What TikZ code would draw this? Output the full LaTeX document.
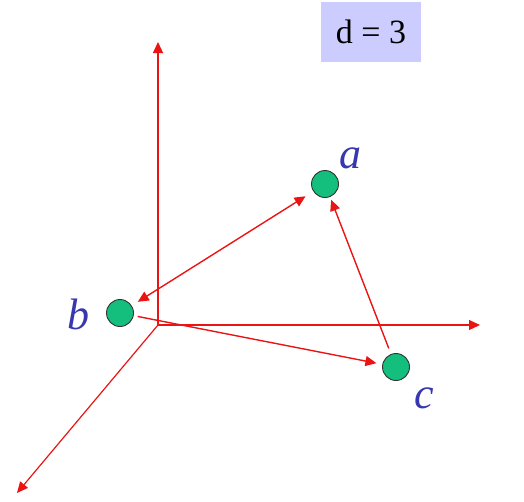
\documentclass[tikz,border=0pt]{standalone}
\usepackage{fontspec}
\setmainfont{Liberation Serif}
\usetikzlibrary{arrows.meta}
\definecolor{axisred}{RGB}{235,20,20}
\definecolor{ptgreen}{RGB}{20,190,125}
\definecolor{lblblue}{RGB}{55,55,175}
\definecolor{boxlav}{RGB}{204,204,255}
\tikzset{
  tipA/.tip={Triangle[length=11pt,width=10pt]},
  axis/.style={draw=axisred, line width=1.2pt, -tipA},
  link/.style={draw=axisred, line width=1.4pt, -tipA},
  pt/.style={circle, draw=black!80, line width=0.9pt, fill=ptgreen, minimum size=27pt, inner sep=0pt},
  lbl/.style={text=lblblue, font=\fontsize{44}{44}\selectfont\itshape, inner sep=0pt},
}
\begin{document}
\begin{tikzpicture}[x=1pt,y=-1pt]
\useasboundingbox (0,0) rectangle (524,501);
% axes
\coordinate (o) at (158,325);
\coordinate (up) at (158,42);
\coordinate (rt) at (480,325);
\coordinate (dl) at (17,493);
\draw[axis] (o) -- (up);
\draw[axis] (o) -- (rt);
\draw[axis] (o) -- (dl);
% d box
\node[fill=boxlav, minimum width=100pt, minimum height=60pt, inner sep=0pt,
      font=\fontsize{34}{34}\selectfont] (d) at (371,32) {d = 3};
% points
\node[pt] (a) at (325,184) {};
\node[pt] (b) at (120,313) {};
\node[pt] (c) at (396,367) {};
\node[lbl] (la) at (350,158) {a};
\node[lbl] (lb) at (78,314) {b};
\node[lbl] (lc) at (424,398) {c};
% links
\draw[link, tipA-tipA, shorten <=7pt, shorten >=9pt] (b) -- (a);
\draw[link, shorten <=6pt, shorten >=3pt] (c) -- (a);
\draw[link, shorten <=4pt, shorten >=6pt] (b) -- (c);
\end{tikzpicture}
\end{document}
